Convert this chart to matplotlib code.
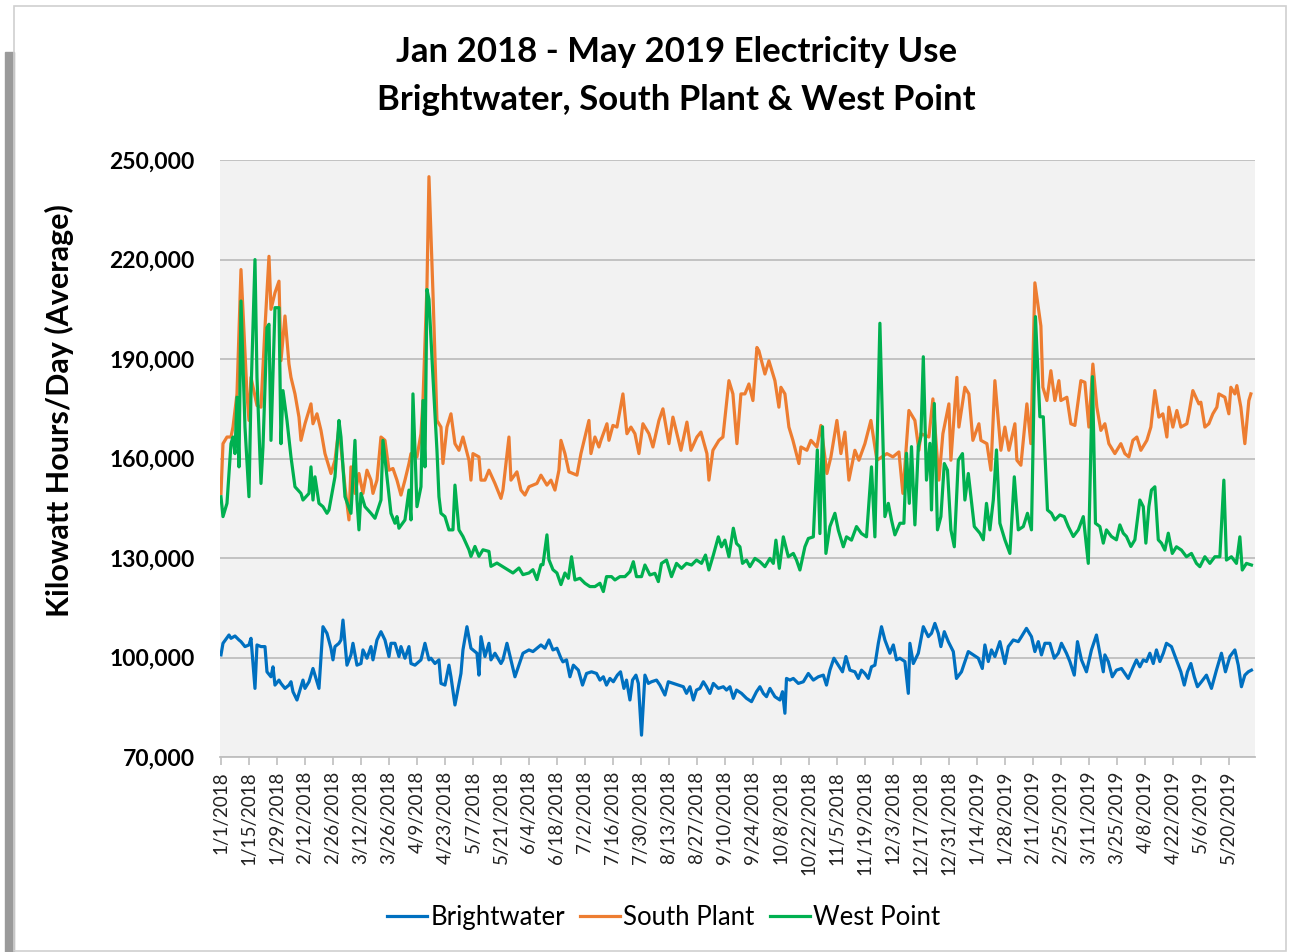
import numpy as np
import matplotlib.pyplot as plt
from matplotlib.ticker import FuncFormatter
from matplotlib.patches import Rectangle

plt.rcParams['font.family'] = ['Lato', 'DejaVu Sans']

start = np.datetime64('2018-01-01')

# Brightwater (days since 1/1/2018, kWh/day)
bw_days = [0, 1, 4, 5, 7, 9, 10, 12, 14, 15, 17, 18, 20, 22, 23, 25, 26, 27, 29, 30,
           32, 34, 35, 36, 38, 40, 41, 42, 44, 46, 47, 49, 51, 53, 55, 56, 57, 59, 60, 61,
           63, 65, 66, 68, 70, 71, 73, 75, 76, 78, 80, 82, 84, 85, 87, 89, 90, 92, 94, 95,
           97, 100, 102, 104, 105, 107, 109, 110, 112, 114, 115, 117, 120, 121, 123, 125, 128, 129, 130, 132,
           134, 135, 137, 140, 141, 143, 145, 147, 149, 151, 154, 156, 158, 160, 162, 164, 166, 168, 170, 171,
           172.8, 174.5, 176.2, 178.7, 180.8, 182.8, 185.3, 187.8, 189.5, 191.2, 192.8, 194.5, 196.2, 198.2, 199.8, 201.5, 202.8, 204.5, 205.8, 207.5,
           208.7, 210.3, 212, 213.7, 215.3, 217.8, 219.5, 222, 223.7, 226.2, 228.7, 231.2, 232.8, 234.5, 236.2, 237.8, 239.5, 241.2, 242.8, 244.5,
           246.2, 248.7, 251.2, 252.8, 254.5, 256.2, 257.8, 260.3, 262.8, 265.3, 267.8, 269.5, 271.2, 272.8, 274.5, 277, 279.5, 280.8, 282, 282.8,
           284.5, 286.2, 288.7, 291.2, 293.7, 296.2, 298.7, 301.2, 302.8, 304.5, 306.5, 308.7, 310.8, 312.5, 314.5, 317, 318.7, 320.3, 322, 323.7,
           325.3, 327, 328.7, 330.3, 332, 334.5, 336.2, 337.8, 339.5, 342, 343.7, 344.5, 346.2, 348.7, 351.2, 353.7, 355.3, 357, 358.7, 360,
           361.7, 363.7, 366.2, 367.8, 370.3, 372, 373.7, 376.2, 378.7, 380.7, 382, 383.7, 385.3, 387, 389.5, 392, 393.7, 396.2, 398.7, 400.3,
           402.8, 405.3, 407, 408.7, 410.3, 412, 414.5, 416.7, 418.7, 420.3, 422.8, 424.5, 426.7, 428.3, 430.3, 432.8, 435.3, 437.8, 439.5, 441.2,
           442, 443.7, 445.7, 447.8, 450.3, 453.7, 456.2, 457.8, 459.5, 461.2, 462.8, 464.5, 466.2, 467.8, 469.5, 471.2, 472.8, 475.3, 477.8, 480,
           481.7, 483.3, 485, 486.7, 488.3, 490.3, 492.8, 495.3, 497.8, 500.3, 502.3, 504.5, 507, 508.7, 510.3, 512, 513.7, 515.3]
bw_vals = [100800, 104300, 106800, 105800, 106500, 105300, 104800, 103300, 103800, 105800, 90700, 103800, 103300, 103300, 95700, 94200, 97200, 91700, 93200, 92200,
           90700, 91700, 92700, 89700, 87200, 91200, 93200, 90700, 92700, 96700, 94700, 90700, 109300, 107300, 102800, 99300, 103300, 104300, 105300, 111300,
           97700, 100800, 104300, 97700, 98200, 102300, 99800, 103300, 99300, 105300, 107800, 105300, 100300, 104300, 104300, 100300, 103300, 99800, 103300, 98200,
           97700, 99300, 104300, 99300, 99800, 98200, 99300, 92200, 91700, 97700, 94200, 85700, 95200, 102300, 109300, 102800, 101300, 94700, 106300, 100300,
           104300, 99300, 101300, 98200, 99300, 104300, 99300, 94200, 97700, 101300, 102300, 101800, 102800, 103800, 102800, 105300, 102300, 102800, 99800, 98700,
           99300, 94200, 97700, 96200, 91700, 95200, 95700, 95200, 93200, 94200, 91700, 93700, 92700, 94700, 95700, 90700, 93200, 87200, 93200, 94700,
           92200, 76600, 94700, 92200, 92700, 93200, 91700, 88700, 92700, 92200, 91700, 91200, 89200, 91200, 87200, 90200, 90700, 92700, 91200, 89200,
           92200, 90700, 91200, 90200, 91200, 87700, 90200, 89200, 87700, 86700, 89700, 91200, 89200, 88200, 90700, 88200, 87200, 89700, 83200, 93700,
           93200, 93700, 92200, 92700, 95200, 93200, 94200, 94700, 91700, 96200, 99800, 97700, 95700, 100300, 96200, 95700, 93700, 96200, 95200, 93700,
           97200, 97700, 104300, 109300, 105300, 101300, 103800, 99300, 99800, 98800, 89200, 104300, 98200, 101300, 109300, 106300, 107300, 110300, 107300, 103300,
           107800, 104800, 101800, 93700, 95700, 98800, 101800, 100800, 99800, 96700, 103800, 98800, 102300, 100300, 104800, 98200, 103300, 105300, 104800, 106300,
           108800, 106300, 101800, 104800, 100800, 104300, 104300, 99800, 101300, 104300, 101300, 98800, 94700, 104800, 99300, 95700, 102300, 106800, 101300, 95700,
           100800, 98800, 94200, 96200, 96700, 93700, 97200, 99300, 97200, 99300, 98800, 101300, 98200, 102300, 98800, 101300, 104300, 103300, 99300, 95700,
           91700, 95700, 98200, 94200, 91200, 92700, 94700, 90700, 96200, 101300, 95700, 100300, 102300, 97700, 91200, 94700, 95700, 96200]

# South Plant
sp_days = [0, 1, 3, 5, 6, 8, 10, 13, 14, 15, 18, 20, 22, 24, 25, 27, 29, 30, 32, 34,
           35, 37, 39, 40, 42, 45, 46, 48, 50, 52, 55, 57, 59, 62, 64, 65, 67, 69, 71, 73,
           75, 76, 78, 80, 82, 84, 86, 88, 90, 92, 94, 95, 98, 100, 101, 103, 104, 106, 108, 110,
           111, 113, 115, 117, 119, 121, 124, 125, 126, 129, 130, 132, 134, 137, 140, 141, 144, 145, 148, 150,
           152, 154, 158, 160, 163, 165, 167, 169, 170, 172, 174, 178, 180, 184, 185, 187, 189, 190, 193, 194,
           196, 198, 201, 203, 205, 207, 209, 211, 214, 216, 219, 221, 224, 226, 230, 233, 235, 238, 240, 243,
           244, 246, 249, 251, 254, 256, 258, 260, 262, 264, 266, 268, 269, 272, 274, 277, 279, 280, 282, 284,
           286, 289, 290, 293, 295, 298, 300, 303, 305, 308, 310, 312, 314, 317, 319, 322, 325, 328, 333, 336,
           339, 341, 344, 347, 349, 350, 354, 356, 359, 361, 364, 365, 368, 369, 372, 374, 376, 379, 380, 383,
           385, 387, 390, 392, 394, 397, 398, 400, 403, 405, 407, 410, 411, 413, 415, 417, 419, 420, 423, 425,
           427, 430, 432, 434, 436, 438, 440, 442, 444, 447, 450, 452, 454, 456, 458, 460, 463, 465, 467, 469,
           471, 473, 474, 476, 478, 480, 483, 484, 486, 489, 490, 492, 494, 496, 498, 499, 502, 504, 505, 507,
           508, 510, 512, 514, 515]
sp_vals = [149500, 164500, 166500, 166500, 169500, 179500, 217000, 179500, 171500, 184500, 176000, 175500, 199500, 221000, 205000, 210000, 213500, 189500, 203000, 188500,
           184500, 179500, 172500, 165500, 170500, 176500, 170500, 173500, 168500, 161500, 155500, 159500, 169500, 151500, 141500, 157500, 149500, 155500, 149500, 156500,
           153500, 149500, 153500, 166500, 165500, 156500, 157000, 153500, 149000, 153500, 158500, 161500, 160500, 167500, 177500, 212000, 245000, 210000, 171500, 169500,
           158500, 169500, 173500, 164500, 162500, 166500, 159500, 153500, 161500, 160500, 153500, 153500, 156500, 152500, 148000, 150500, 166500, 153500, 156000, 150500,
           149000, 151500, 152500, 155000, 152000, 153500, 150500, 156500, 165500, 161500, 156000, 155000, 161500, 171500, 161500, 166500, 163500, 165500, 170500, 165500,
           170000, 169500, 179500, 167500, 169500, 167500, 161500, 170500, 167500, 163500, 171500, 175000, 164500, 172500, 162500, 171000, 162500, 166500, 168000, 161500,
           153500, 162500, 165500, 166500, 183500, 179500, 164500, 179500, 179500, 182500, 177500, 193500, 192500, 185500, 189500, 183500, 175500, 181500, 179500, 169500,
           165500, 158500, 163500, 162500, 165500, 163500, 170000, 155500, 160500, 171500, 161500, 168000, 153500, 162500, 159500, 164500, 171500, 159500, 161500, 160500,
           162000, 149500, 174500, 171500, 162500, 167500, 166500, 178000, 153500, 167500, 176500, 159500, 184500, 169500, 181500, 179500, 165500, 170500, 165500, 164500,
           156500, 183500, 162500, 169500, 162500, 170500, 159500, 158000, 176500, 164500, 213000, 200000, 181500, 177500, 186500, 177500, 183500, 177500, 178500, 170500,
           170000, 183500, 183000, 169500, 188500, 175500, 168500, 170500, 164500, 161500, 164500, 161500, 160500, 165500, 166500, 162500, 165500, 169500, 180500, 172500,
           173500, 166500, 175500, 169500, 174500, 169500, 170500, 173500, 180500, 176500, 177000, 169500, 170500, 173500, 175500, 179500, 178500, 173500, 181500, 179500,
           182000, 175500, 164500, 177500, 179500]

# West Point
wp_days = [0, 1, 3, 5, 6, 7, 8, 9, 10, 12, 14, 15, 17, 18, 20, 21, 23, 24, 25, 27,
           29, 30, 31, 33, 35, 37, 40, 41, 44, 45, 46, 47, 49, 51, 53, 54, 57, 59, 60, 62,
           65, 67, 68, 69, 70, 72, 75, 77, 80, 81, 83, 85, 87, 88, 89, 92, 94, 95, 96, 98,
           100, 101, 102, 103, 104, 106, 108, 109, 110, 112, 114, 116, 117, 119, 121, 124, 125, 127, 129, 131,
           134, 135, 138, 142, 146, 149, 151, 154, 156, 158, 160, 161, 163, 164, 166, 168, 170, 172, 173.7, 175.3,
           177, 179.5, 182, 184.5, 187, 189.5, 191.2, 192.8, 195.3, 197, 199.5, 202, 204.5, 206.2, 207.8, 210.3, 212, 214.5, 217, 218.7,
           220.3, 222.8, 225.3, 227.8, 230.3, 232.8, 235.3, 237.8, 240.3, 242.3, 244, 246.2, 248.7, 250.3, 252, 254, 256.2, 257.8, 259.5, 260.8,
           262.8, 264.5, 267, 269.5, 272, 274.5, 276.2, 277.5, 279.2, 281.2, 283.7, 286.2, 287.8, 289.5, 292, 293.7, 296.2, 298.2, 299.5, 300.8,
           302.5, 304.5, 307, 308.7, 311.2, 312.8, 315.3, 317.8, 320.3, 322.8, 325.3, 327, 329.5, 332, 333.7, 335.3, 337, 339.5, 341.5, 342.8,
           344.2, 345.3, 347, 348.7, 350, 351.2, 352.8, 354.5, 355.3, 356.7, 358.3, 360, 361.7, 363.3, 365, 366.7, 368.7, 370.8, 372, 373.7,
           375, 376.7, 379.5, 381.2, 382.8, 384.5, 386.2, 387.8, 389.5, 392, 394.5, 396.7, 398.7, 401.2, 403.3, 405.3, 407.3, 409.5, 411.2, 413.3,
           415.3, 417, 419.5, 421.7, 423.7, 426.2, 428.7, 431.2, 433.7, 435.8, 437.3, 439.5, 441.2, 442.8, 445.3, 447.8, 449.5, 451.2, 452.8, 455,
           457, 459.5, 461.2, 462.5, 464, 465.3, 467, 468.7, 470.3, 472, 473.7, 475.7, 477.8, 480.3, 482.8, 485.3, 487.8, 489.5, 492, 494.5,
           497, 499.5, 501.5, 502.8, 505.3, 507.8, 509.5, 510.7, 512.8, 515.3]
wp_vals = [148500, 142500, 146500, 164500, 166500, 161500, 178500, 157500, 207500, 169500, 148500, 179500, 220000, 184500, 152500, 163500, 199500, 200500, 165500, 205500,
           205500, 164500, 180500, 171500, 160500, 151500, 149500, 147500, 149500, 157500, 147500, 154500, 146500, 145500, 143500, 144500, 154500, 171500, 166500, 148500,
           143500, 165500, 147500, 138500, 149500, 145500, 143500, 142000, 147500, 165500, 154500, 143500, 140500, 142500, 139000, 141500, 150500, 141500, 179500, 145500,
           151500, 177500, 157500, 211000, 208000, 184500, 162500, 148500, 143500, 142500, 138500, 138500, 152000, 138500, 136500, 132500, 130500, 133500, 130500, 132500,
           132000, 127500, 128500, 127000, 125500, 127000, 125000, 125500, 126500, 123500, 128000, 128000, 137000, 129500, 126500, 125500, 122000, 125500, 123900, 130400,
           123400, 123900, 122400, 121400, 121400, 122400, 119900, 124400, 124400, 123400, 124400, 124400, 125900, 128900, 124400, 124400, 127900, 124900, 125400, 122900,
           128400, 129400, 124400, 128400, 126900, 128400, 127900, 129400, 128400, 130900, 126400, 130900, 136400, 133400, 135400, 130400, 139000, 134400, 133400, 128400,
           129400, 127400, 129900, 128900, 127400, 129900, 128400, 135400, 126900, 136400, 130400, 131400, 129400, 126400, 133400, 135900, 136400, 162600, 137400, 169600,
           131400, 139500, 143500, 138400, 133400, 136400, 135400, 139500, 137400, 136400, 157500, 136400, 200800, 142500, 146500, 141500, 137000, 140500, 140500, 161600,
           146500, 163600, 140000, 163600, 166600, 190700, 153500, 164600, 144500, 176600, 138500, 142500, 158500, 156500, 138500, 133400, 159500, 161500, 147500, 155500,
           148500, 139500, 137500, 135500, 146500, 138500, 147500, 162600, 140500, 135500, 131400, 154500, 138500, 139500, 143500, 138500, 202800, 172600, 172600, 144500,
           143500, 141500, 143000, 142500, 139500, 136500, 138500, 142500, 128400, 184700, 140500, 139500, 134500, 138500, 136500, 135500, 140000, 137500, 136500, 133500,
           135500, 147500, 145500, 134500, 145500, 150500, 151500, 135500, 134500, 132400, 137500, 131400, 133400, 132400, 130400, 131400, 128400, 127400, 130400, 128400,
           130400, 130400, 153500, 129400, 130400, 128400, 136400, 126400, 128400, 127900]

series_names = ['Brightwater', 'South Plant', 'West Point']
series_colors = ['#0070C0', '#ED7D31', '#00B050']


def to_dates(days):
    return start + np.round(np.array(days) * 24).astype('timedelta64[h]')


fig = plt.figure(figsize=(12.91, 9.52), dpi=100)
ax = fig.add_axes([0.1704, 0.2048, 0.8016, 0.6270])
ax.set_facecolor('#f2f2f2')

for days, vals, name, col in zip([bw_days, sp_days, wp_days], [bw_vals, sp_vals, wp_vals],
                                 series_names, series_colors):
    ax.plot(to_dates(days), vals, color=col, linewidth=2.3, label=name, zorder=3)

ax.set_ylim(70000, 250000)
ax.set_yticks(np.arange(70000, 250001, 30000))
ax.yaxis.set_major_formatter(FuncFormatter(lambda v, p: f'{int(v):,}'))
ax.grid(axis='y', color='#bfbfbf', linewidth=1.3, zorder=1)
ax.set_axisbelow(True)

xmin = start - np.timedelta64(12, 'h')
xmax = start + np.timedelta64(517, 'D')
ax.set_xlim(xmin, xmax)
ticks = start + np.arange(0, 505, 14).astype('timedelta64[D]')
ax.set_xticks(ticks)
ax.set_xticklabels([f'{t.astype(object).month}/{t.astype(object).day}/{t.astype(object).year}' for t in ticks],
                   rotation=90, fontsize=13.5, color='#222222')

for s in ['top', 'right', 'left']:
    ax.spines[s].set_visible(False)
ax.spines['bottom'].set_color('#bfbfbf')
ax.spines['bottom'].set_linewidth(1.3)
ax.tick_params(axis='x', direction='out', length=6, color='#bfbfbf', width=1.2, pad=4)
ax.tick_params(axis='y', length=0, pad=18)
for lab in ax.get_yticklabels():
    lab.set_fontweight('bold')
    lab.set_fontsize(16.5)

ax.set_ylabel('Kilowatt Hours/Day (Average)', fontsize=22, fontweight='bold')
ax.yaxis.set_label_coords(-0.141, 0.58)

fig.text(0.524, 0.945, 'Jan 2018 - May 2019 Electricity Use', ha='center', va='center',
         fontsize=25, fontweight='bold')
fig.text(0.524, 0.895, 'Brightwater, South Plant & West Point', ha='center', va='center',
         fontsize=25, fontweight='bold')

fig.legend(loc='center', bbox_to_anchor=(0.514, 0.036), ncol=3, frameon=False, fontsize=18.5,
           handlelength=1.55, handletextpad=0.12, columnspacing=0.6)

# frame and shadow around the chart
fig.patches.append(Rectangle((0.004, 0.0), 0.007, 0.945, transform=fig.transFigure,
                             color='#9a9a9a', zorder=0))
fig.patches.append(Rectangle((0.011, 0.001), 0.985, 0.993, transform=fig.transFigure,
                             fill=False, edgecolor='#d0d0d0', linewidth=1.2, zorder=0))

fig.savefig('out.png', dpi=100)
